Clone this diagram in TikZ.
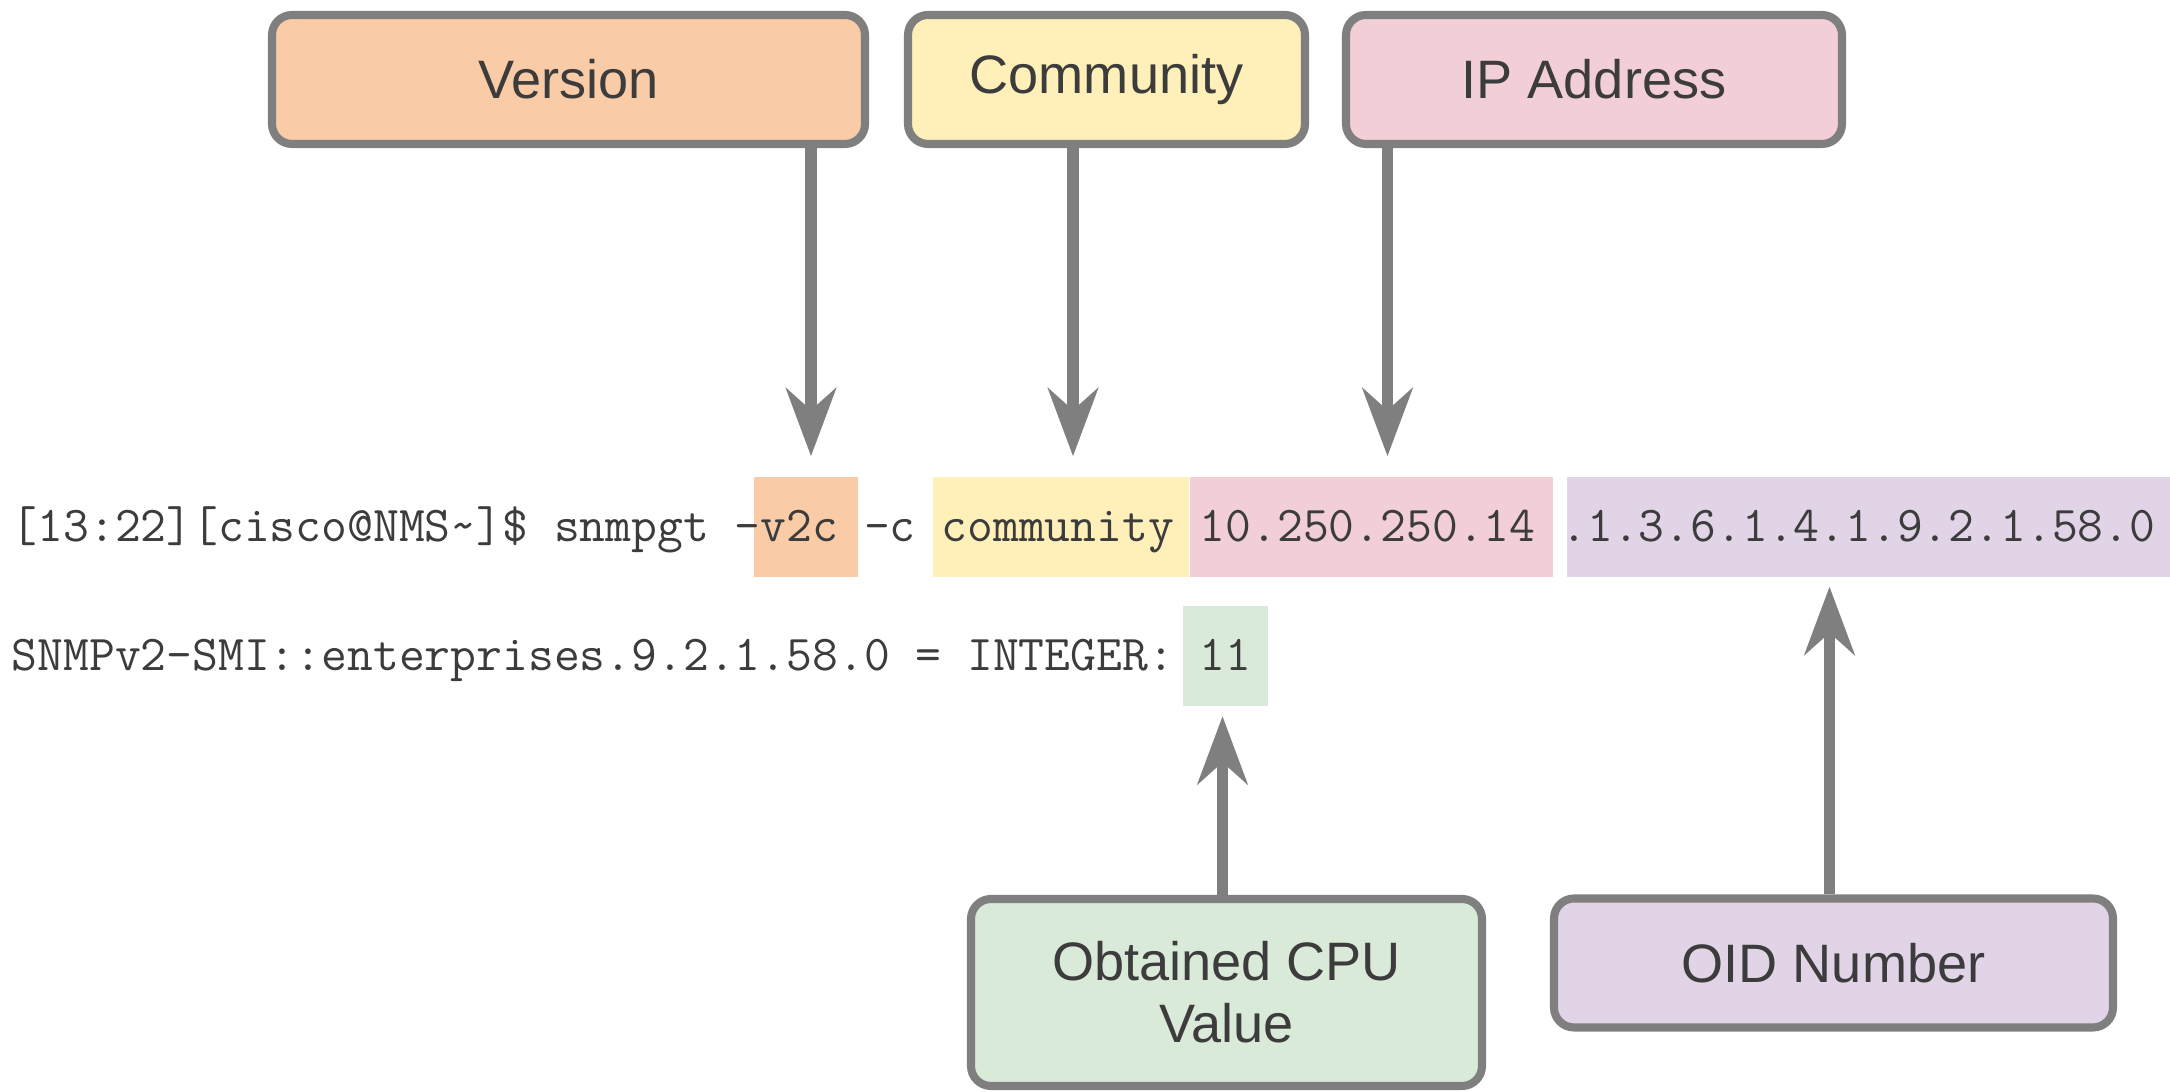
\documentclass[tikz,border=0pt]{standalone}
\usepackage{fontspec}
\setmainfont{Liberation Sans}
\usepackage{tikz}
\usetikzlibrary{arrows.meta}
\definecolor{rahmen}{HTML}{7F7F7F}
\definecolor{schrift}{HTML}{3C3C3C}
\definecolor{vorange}{HTML}{F9CBA7}
\definecolor{cgelb}{HTML}{FFF0B9}
\definecolor{iprosa}{HTML}{F2CFD6}
\definecolor{oidlila}{HTML}{E0D4E6}
\definecolor{cpugruen}{HTML}{DAEAD9}
\tikzset{labelbox/.style={draw=rahmen, line width=2.3pt, rounded corners=0.2cm,
           text=schrift, font=\fontsize{15.4}{17.6}\selectfont, align=center,
           inner sep=0pt, minimum height=1.29cm},
         hilite/.style={inner sep=0pt, minimum height=1cm},
         terminal/.style={inner sep=0pt, text=schrift, font=\ttfamily\fontsize{14.27}{17}\selectfont},
         pfeil/.style={draw=rahmen, line width=3.2pt,
           -{Stealth[length=0.68cm,width=0.5cm,inset=0.22cm]}}}

\begin{document}
\begin{tikzpicture}
\useasboundingbox (0,0) rectangle (21.7,10.92);
% Die Kaesten oben:
\node[labelbox, fill=vorange, minimum width=5.93cm] (version) at (5.685,10.125) {Version};
\node[labelbox, fill=cgelb, minimum width=3.97cm] (community) at (11.065,10.125) {Community};
\node[labelbox, fill=iprosa, minimum width=4.96cm] (ip) at (15.94,10.125) {IP Address};
% Die Kaesten unten:
\node[labelbox, fill=cpugruen, minimum width=5.11cm, minimum height=1.87cm] (cpu) at (12.265,0.995) {Obtained CPU\\Value};
\node[labelbox, fill=oidlila, minimum width=5.59cm] (oidnr) at (18.335,1.29) {OID Number};
% Die Markierungen:
\node[hilite, fill=vorange, minimum width=1.04cm] (ver) at (8.06,5.65) {};
\node[hilite, fill=cgelb, minimum width=2.56cm] (com) at (10.61,5.65) {};
\node[hilite, fill=iprosa, minimum width=3.63cm] (ipadr) at (13.715,5.65) {};
\node[hilite, fill=oidlila, minimum width=6.03cm] (oid) at (18.685,5.65) {};
\node[hilite, fill=cpugruen, minimum width=0.85cm] (val) at (12.255,4.355) {};
% Die Befehlszeilen:
\node[terminal, anchor=base west] (zeile1) at (0.11,5.50)
  {[13:22][cisco@NMS\textasciitilde]\$ snmpgt -v2c -c community 10.250.250.14 .1.3.6.1.4.1.9.2.1.58.0};
\node[terminal, anchor=base west] (zeile2) at (0.11,4.21)
  {SNMPv2-SMI::enterprises.9.2.1.58.0 = INTEGER: 11};
% Die Pfeile:
\foreach \von/\nach/\dx in {version/ver/0.05, community/com/0.12, ip/ipadr/0.16}
  \draw[pfeil, shorten >=0.2cm] ([xshift=\dx cm]\nach.north |- \von.south) -- ([xshift=\dx cm]\nach.north);
\foreach \von/\nach/\dx in {cpu/val/-0.03, oidnr/oid/-0.39}
  \draw[pfeil, shorten >=0.09cm] ([xshift=\dx cm]\nach.south |- \von.north) -- ([xshift=\dx cm]\nach.south);
\end{tikzpicture}
\end{document}
